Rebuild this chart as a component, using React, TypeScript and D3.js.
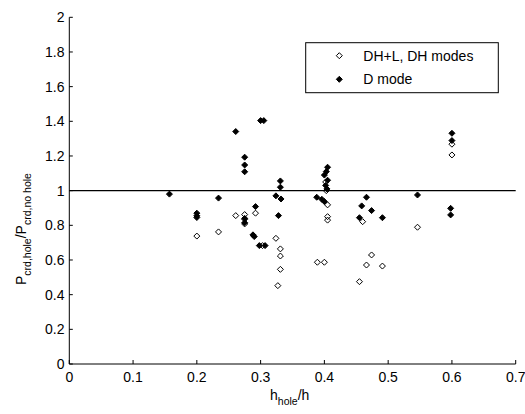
import React from "react";
import * as d3 from "d3";

const openX = [0.2, 0.234, 0.261, 0.275, 0.275, 0.275, 0.292, 0.303, 0.324, 0.331, 0.331, 0.331, 0.327, 0.389, 0.4, 0.405, 0.405, 0.405, 0.402, 0.403, 0.46, 0.474, 0.466, 0.491, 0.455, 0.546, 0.6, 0.6];
const openY = [0.738, 0.762, 0.856, 0.862, 0.835, 0.808, 0.87, 0.683, 0.725, 0.664, 0.623, 0.546, 0.452, 0.587, 0.587, 0.918, 0.85, 0.83, 1.05, 1.0, 0.821, 0.629, 0.571, 0.565, 0.475, 0.789, 1.268, 1.206];

const filledX = [0.157, 0.2, 0.2, 0.2, 0.234, 0.261, 0.275, 0.275, 0.275, 0.275, 0.275, 0.288, 0.29, 0.292, 0.3, 0.305, 0.298, 0.307, 0.324, 0.332, 0.331, 0.331, 0.328, 0.388, 0.396, 0.4, 0.405, 0.403, 0.4, 0.405, 0.402, 0.404, 0.466, 0.4585, 0.474, 0.455, 0.491, 0.546, 0.6, 0.6, 0.598, 0.598];
const filledY = [0.98, 0.87, 0.855, 0.845, 0.957, 1.341, 1.193, 1.148, 1.109, 0.84, 0.815, 0.745, 0.735, 0.908, 1.404, 1.404, 0.683, 0.683, 0.97, 0.952, 1.056, 1.02, 0.856, 0.962, 0.95, 0.937, 1.135, 1.11, 1.09, 1.06, 1.03, 1.01, 0.962, 0.912, 0.885, 0.844, 0.844, 0.975, 1.331, 1.289, 0.898, 0.86];

const xTicks = [0, 0.1, 0.2, 0.3, 0.4, 0.5, 0.6, 0.7];
const yTicks = [0, 0.2, 0.4, 0.6, 0.8, 1, 1.2, 1.4, 1.6, 1.8, 2];
const legendLabels = ["DH+L, DH modes", "D mode"];

const FONT = "'Liberation Sans', Arial, Helvetica, sans-serif";

function diamond(cx: number, cy: number, r: number) {
  return `M${cx},${cy - r}L${cx + r},${cy}L${cx},${cy + r}L${cx - r},${cy}Z`;
}

export default function App() {
  const x = d3.scaleLinear().domain([0, 0.7]).range([69.3, 515.7]);
  const y = d3.scaleLinear().domain([0, 2]).range([364, 17.3]);
  const r = 3;
  const fmt = (v: number) => String(v);

  return (
    <svg
      width={525}
      height={414}
      style={{ position: "absolute", left: 0, top: 0, background: "#fff" }}
      fontFamily={FONT}
    >
      <rect x={0} y={0} width={525} height={414} fill="#fff" />
      {/* reference line y=1 */}
      <line x1={x(0)} x2={x(0.7)} y1={y(1)} y2={y(1)} stroke="#000" strokeWidth={1.2} />

      {/* open markers */}
      {openX.map((v, i) => (
        <path key={"o" + i} d={diamond(x(v), y(openY[i]), r)} fill="none" stroke="#000" strokeWidth={1} />
      ))}
      {/* filled markers */}
      {filledX.map((v, i) => (
        <path key={"f" + i} d={diamond(x(v), y(filledY[i]), r)} fill="#000" stroke="#000" strokeWidth={1} />
      ))}

      {/* axes */}
      <line x1={x(0)} x2={x(0)} y1={y(0)} y2={y(2)} stroke="#000" strokeWidth={1} />
      <line x1={x(0)} x2={x(0.7)} y1={y(0)} y2={y(0)} stroke="#000" strokeWidth={1} />
      {yTicks.map((t) => (
        <g key={"yt" + t}>
          <line x1={x(0)} x2={x(0) + 3.5} y1={y(t)} y2={y(t)} stroke="#000" />
          <text x={64.5} y={y(t)} dy="0.36em" textAnchor="end" fontSize={14}>
            {fmt(t)}
          </text>
        </g>
      ))}
      {xTicks.map((t) => (
        <g key={"xt" + t}>
          <line x1={x(t)} x2={x(t)} y1={y(0)} y2={y(0) - 4} stroke="#000" />
          <text x={x(t)} y={381.7} textAnchor="middle" fontSize={14}>
            {fmt(t)}
          </text>
        </g>
      ))}

      {/* x label */}
      <text x={270} y={400} fontSize={14}>
        h
        <tspan fontSize={10.5} dy={5}>hole</tspan>
        <tspan dy={-5}>/h</tspan>
      </text>

      {/* y label */}
      <text transform="translate(26,285) rotate(-90)" fontSize={14}>
        P
        <tspan fontSize={10.5} dy={5}>crd,hole</tspan>
        <tspan dy={-5}>/P</tspan>
        <tspan fontSize={10.5} dy={5}>crd,no hole</tspan>
      </text>

      {/* legend */}
      <rect x={305.7} y={42.7} width={192.6} height={50} fill="#fff" stroke="#000" strokeWidth={1} />
      <path d={diamond(339.3, 55.7, r)} fill="none" stroke="#000" />
      <path d={diamond(339.3, 79.3, r)} fill="#000" stroke="#000" />
      <text x={363.3} y={55.7} dy="0.36em" fontSize={14}>{legendLabels[0]}</text>
      <text x={363.3} y={79.3} dy="0.36em" fontSize={14}>{legendLabels[1]}</text>
    </svg>
  );
}
